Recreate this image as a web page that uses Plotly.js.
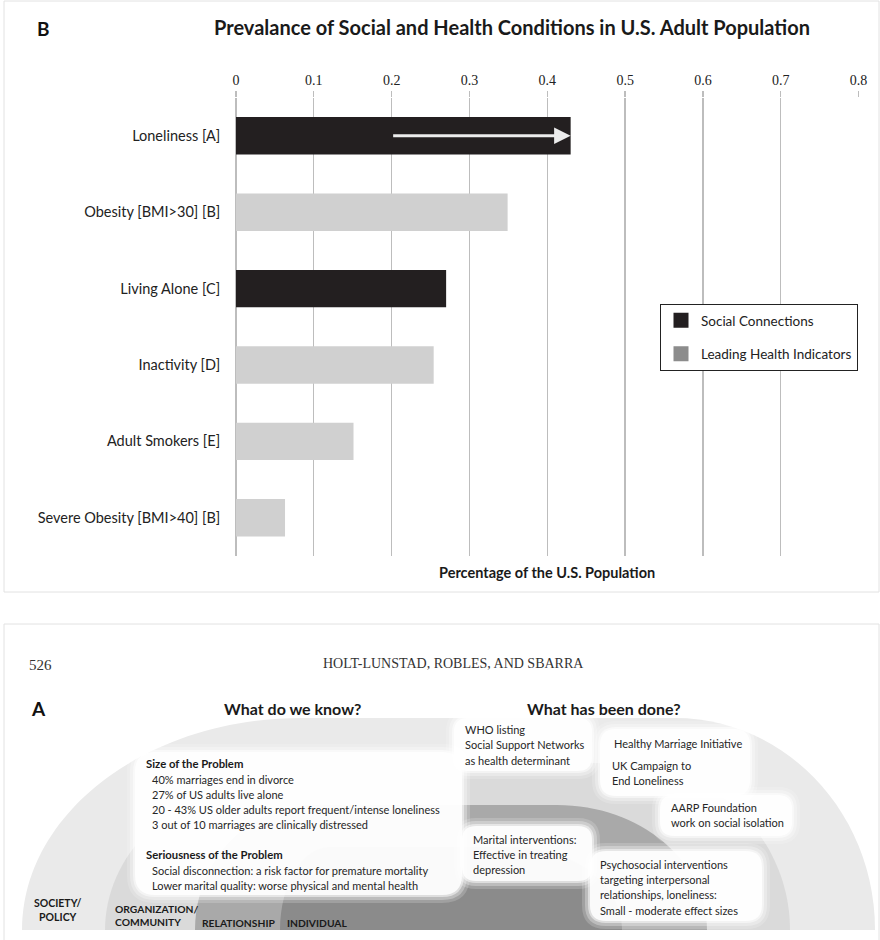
<!DOCTYPE html>
<html><head><meta charset="utf-8">
<script src="https://cdn.plot.ly/plotly-3.0.1.min.js"></script>
<style>html,body{margin:0;padding:0;background:#fff}#chart{width:880px;height:940px}</style>
</head><body><div id="chart"></div>
<script>
// ---- Panel B data ----
const conditions = ["Loneliness [A]", "Obesity [BMI>30] [B]", "Living Alone [C]", "Inactivity [D]", "Adult Smokers [E]", "Severe Obesity [BMI>40] [B]"];
const prevalence = [0.43, 0.349, 0.27, 0.254, 0.151, 0.063];
const groups = ["Social Connections", "Leading Health Indicators", "Social Connections", "Leading Health Indicators", "Leading Health Indicators", "Leading Health Indicators"];
const groupNames = ["Social Connections", "Leading Health Indicators"];
const groupBarColors = ["#231f20", "#d0d0d0"];
const groupLegendColors = ["#231f20", "#8c8c8c"];
const xTicks = [0, 0.1, 0.2, 0.3, 0.4, 0.5, 0.6, 0.7, 0.8];
const lonelinessRange = [0.20, 0.43];

// ---- Panel A text content ----
const sizeHeading = "Size of the Problem";
const sizeLines = ["40% marriages end in divorce", "27% of US adults live alone", "20 - 43% US older adults report frequent/intense loneliness", "3 out of 10 marriages are clinically distressed"];
const seriousHeading = "Seriousness of the Problem";
const seriousLines = ["Social disconnection: a risk factor for premature mortality", "Lower marital quality: worse physical and mental health"];
const whoLines = ["WHO listing", "Social Support Networks", "as health determinant"];
const hmiLines = ["Healthy Marriage Initiative"];
const ukLines = ["UK Campaign to", "End Loneliness"];
const aarpLines = ["AARP Foundation", "work on social isolation"];
const maritalLines = ["Marital interventions:", "Effective in treating", "depression"];
const psychoLines = ["Psychosocial interventions", "targeting interpersonal", "relationships, loneliness:", "Small - moderate effect sizes"];
const levels = ["SOCIETY/<br>POLICY", "ORGANIZATION/<br>COMMUNITY", "RELATIONSHIP", "INDIVIDUAL"];

const W = 880, H = 940;
const X = v => v / W;
const Y = v => 1 - v / H;
const f = n => n.toFixed(5);
const SANS = "Lato, 'Open Sans', sans-serif";

// ---- traces ----
const traces = [];
groupNames.forEach((g, gi) => {
  const ys = [], xs = [];
  conditions.forEach((c, i) => { if (groups[i] === g) { ys.push(c); xs.push(prevalence[i]); } });
  traces.push({type: "bar", orientation: "h", name: g, y: ys, x: xs,
    marker: {color: groupBarColors[gi], line: {width: 0}}, showlegend: false, hoverinfo: "x+y"});
});
// legend swatches: zero-length bars on a hidden overlay axis whose range excludes them
groupNames.forEach((g, gi) => {
  traces.push({type: "bar", orientation: "h", name: g, y: [conditions[0]], x: [0], xaxis: "x2", yaxis: "y2",
    legendgroup: "g" + gi,
    marker: {color: groupLegendColors[gi], line: {color: groupLegendColors[gi], width: 3}}, showlegend: true, hoverinfo: "skip"});
});

// ---- shapes ----
const shapes = [];
function rectPx(x0, y0, x1, y1, color) {
  shapes.push({type: "rect", xref: "paper", yref: "paper", x0: X(x0), x1: X(x1), y0: Y(y1), y1: Y(y0),
    line: {color: color, width: 1}, fillcolor: "rgba(0,0,0,0)", layer: "below"});
}
rectPx(4, 1, 879, 592, "#e2e2e2");
rectPx(4, 624, 879, 960, "#e2e2e2");

function ringPath(xl, xr, yt, yb, rl, rr) {
  const k = 0.5523, ry = yb - yt;
  const p = (x, y) => f(X(x)) + "," + f(Y(y));
  return "M" + p(xl, yb) +
    " C" + p(xl, yb - k * ry) + " " + p(xl + rl - k * rl, yt) + " " + p(xl + rl, yt) +
    " L" + p(xr - rr, yt) +
    " C" + p(xr - rr + k * rr, yt) + " " + p(xr, yb - k * ry) + " " + p(xr, yb) + " Z";
}
const rings = [
  [22, 875, 718, 930, 280, 200, "#eaeaea"],
  [105, 790, 763, 930, 220, 170, "#dadada"],
  [195, 707, 805, 930, 120, 150, "#a9a9a9"],
  [280, 622, 847, 930, 50, 110, "#8b8b8b"]
];
rings.forEach(r => shapes.push({type: "path", xref: "paper", yref: "paper", path: ringPath(r[0], r[1], r[2], r[3], r[4], r[5]),
  fillcolor: r[6], line: {width: 0}, layer: "above"}));

function roundRect(x0, y0, x1, y1, r) {
  const p = (x, y) => f(X(x)) + "," + f(Y(y));
  return "M" + p(x0 + r, y0) + " L" + p(x1 - r, y0) + " Q" + p(x1, y0) + " " + p(x1, y0 + r) +
    " L" + p(x1, y1 - r) + " Q" + p(x1, y1) + " " + p(x1 - r, y1) +
    " L" + p(x0 + r, y1) + " Q" + p(x0, y1) + " " + p(x0, y1 - r) +
    " L" + p(x0, y0 + r) + " Q" + p(x0, y0) + " " + p(x0 + r, y0) + " Z";
}
const boxes = [
  [135, 752, 462, 895, 20],
  [454, 718, 592, 771, 14],
  [600, 729, 750, 796, 16],
  [660, 795, 792, 836, 14],
  [462, 826, 592, 881, 14],
  [590, 851, 762, 921, 16]
];
const softLayers = [[8, 0.18], [5, 0.3], [2, 0.5], [0, 0.85]];
boxes.forEach(b => softLayers.forEach(l => {
  shapes.push({type: "path", xref: "paper", yref: "paper",
    path: roundRect(b[0] - l[0], b[1] - l[0], b[2] + l[0], b[3] + l[0], b[4] + l[0]),
    fillcolor: "rgba(255,255,255," + l[1] + ")", line: {width: 0}, layer: "above"});
}));

// ---- annotations ----
const ann = [];
function txt(text, x, y, opts) {
  const o = Object.assign({size: 11, color: "#262626", family: SANS, xanchor: "left", align: "left"}, opts || {});
  ann.push({xref: "paper", yref: "paper", x: X(x), y: Y(y), text: text, showarrow: false,
    xanchor: o.xanchor, yanchor: "middle", align: o.align,
    font: {family: o.family, size: o.size, color: o.color}});
}
function block(lines, x, y0, dy, opts) { lines.forEach((t, i) => txt(t, x, y0 + i * dy, opts)); }

// Panel B texts
txt("<b>B</b>", 43, 28, {size: 19, color: "#111", xanchor: "center"});
txt("<b>Percentage of the U.S. Population</b>", 547, 572, {size: 14.5, color: "#1a1a1a", xanchor: "center"});
// arrow in loneliness bar
ann.push({xref: "x", yref: "y", x: lonelinessRange[1], y: conditions[0], axref: "x", ax: lonelinessRange[0], ayref: "pixel", ay: 0,
  text: "", showarrow: true, arrowhead: 2, arrowsize: 1.1, arrowwidth: 3, arrowcolor: "#ececec", standoff: 0});

// Panel A texts
txt("526", 27, 665, {family: "'Liberation Serif', serif", size: 15, color: "#333"});
txt("HOLT-LUNSTAD, ROBLES, AND SBARRA", 453, 663, {family: "'Liberation Serif', serif", size: 14, color: "#333", xanchor: "center"});
txt("<b>A</b>", 38, 708, {size: 19, color: "#111", xanchor: "center"});
txt("<b>What do we know?</b>", 292, 708, {size: 16, color: "#1a1a1a", xanchor: "center"});
txt("<b>What has been done?</b>", 604, 708, {size: 16, color: "#1a1a1a", xanchor: "center"});

txt("<b>" + sizeHeading + "</b>", 144, 763, {color: "#1a1a1a", size: 11.3});
block(sizeLines, 150, 779, 15.1);
txt("<b>" + seriousHeading + "</b>", 144, 854, {color: "#1a1a1a", size: 11.3});
block(seriousLines, 150, 870, 15.2);
block(whoLines, 463, 729, 15.5);
block(hmiLines, 612, 743, 15);
block(ukLines, 610, 765, 15.5);
block(aarpLines, 669, 807, 15.2);
block(maritalLines, 471, 839, 15.2);
block(psychoLines, 598, 864, 15.4);

txt("<b>" + levels[0] + "</b>", 58, 910, {size: 10.5, color: "#1a1a1a", xanchor: "center", align: "center"});
txt("<b>" + levels[1] + "</b>", 113, 915, {size: 10.3, color: "#1a1a1a"});
txt("<b>" + levels[2] + "</b>", 200, 923, {size: 10.3, color: "#1a1a1a"});
txt("<b>" + levels[3] + "</b>", 285, 923, {size: 10.3, color: "#1a1a1a"});

const yDomain = [Y(556), Y(97.6)];
const layout = {
  width: W, height: H,
  margin: {l: 0, r: 0, t: 0, b: 0},
  paper_bgcolor: "#fff", plot_bgcolor: "rgba(0,0,0,0)",
  title: {text: "<b>Prevalance of Social and Health Conditions in U.S. Adult Population</b>",
    x: 512 / W, xanchor: "center", xref: "paper", y: Y(28), yanchor: "middle", yref: "paper",
    font: {family: SANS, size: 20, color: "#1a1a1a"}},
  barmode: "overlay", bargap: 0.51,
  xaxis: {domain: [236 / W, 859 / W], range: [0, 0.8005], side: "top", tickvals: xTicks, ticktext: xTicks.map(String),
    showgrid: true, gridcolor: "#bdbdbd", gridwidth: 1.3, zeroline: true, zerolinecolor: "#bdbdbd", zerolinewidth: 1.3,
    showline: false, ticks: "outside", ticklen: 6, tickcolor: "#bdbdbd", tickwidth: 1.3,
    tickfont: {family: "'Liberation Serif', serif", size: 14, color: "#222"}, fixedrange: true},
  yaxis: {domain: yDomain, type: "category", categoryorder: "array", categoryarray: conditions,
    autorange: "reversed", showgrid: false, zeroline: false, showline: false,
    ticks: "outside", ticklen: 12, tickcolor: "rgba(0,0,0,0)",
    tickfont: {family: SANS, size: 14.5, color: "#222"}, fixedrange: true},
  xaxis2: {overlaying: "x", anchor: "y2", range: [1, 2], visible: false, fixedrange: true},
  yaxis2: {overlaying: "y", anchor: "x2", type: "category", visible: false, fixedrange: true},
  legend: {x: X(660), y: Y(304), xanchor: "left", yanchor: "top", bgcolor: "#fff", bordercolor: "#222", borderwidth: 1,
    traceorder: "grouped", tracegroupgap: 13, font: {family: SANS, size: 13.5, color: "#222"}},
  shapes: shapes,
  annotations: ann,
  showlegend: true
};
Plotly.newPlot("chart", traces, layout, {displayModeBar: false, staticPlot: true});
</script></body></html>
